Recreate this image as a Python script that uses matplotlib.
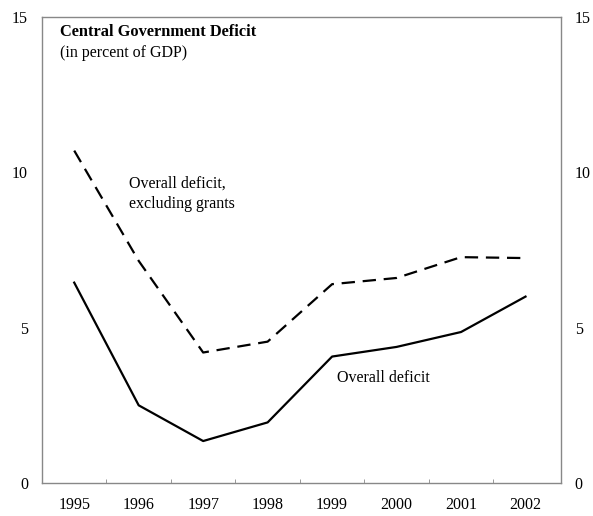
import numpy as np
import matplotlib
matplotlib.use('Agg')
import matplotlib.pyplot as plt

plt.rcParams['font.family'] = ['Liberation Serif', 'DejaVu Serif']

years = ['1995', '1996', '1997', '1998', '1999', '2000', '2001', '2002']
overall = [6.45, 2.5, 1.35, 1.95, 4.07, 4.38, 4.86, 6.0]
excl_grants = [10.7, 7.15, 4.2, 4.55, 6.4, 6.6, 7.27, 7.24]

x = np.arange(len(years))
fig = plt.figure(figsize=(5.93, 5.16), dpi=100)
ax = fig.add_axes([0.0708, 0.064, 0.8752, 0.903])

ax.plot(x, excl_grants, color='black', lw=1.6, ls=(0, (6, 3.5)))
ax.plot(x, overall, color='black', lw=1.6)

ax.set_xlim(-0.5, 7.55)
ax.set_ylim(0, 15)
for s in ax.spines.values():
    s.set_color('#888888'); s.set_linewidth(1.0)

ax.set_xticks(x)
ax.set_xticklabels(years, fontsize=11.5)
ax.set_xticks(x[:-1] + 0.5, minor=True)
ax.tick_params(axis='x', which='major', length=0, pad=10)
ax.tick_params(axis='x', which='minor', direction='in', length=3, color='#888888')
ax.set_yticks([0, 5, 10, 15])
ax.tick_params(axis='y', length=0, labelsize=11.5, pad=10,
               left=True, right=True, labelleft=True, labelright=True)
for lbl in ax.get_yticklabels(which='major'):
    pass
ax.yaxis.set_tick_params(which='major', pad=10)

ax.text(0.035, 0.985, 'Central Government Deficit', transform=ax.transAxes,
        fontsize=11.8, fontweight='bold', va='top')
ax.text(0.035, 0.94, '(in percent of GDP)', transform=ax.transAxes,
        fontsize=11.5, va='top')
ax.text(0.85, 9.3, 'Overall deficit,\nexcluding grants', fontsize=11.5,
        va='center', linespacing=1.35)
ax.text(4.08, 3.38, 'Overall deficit', fontsize=11.5, va='center')

plt.savefig('out.png', dpi=100)
